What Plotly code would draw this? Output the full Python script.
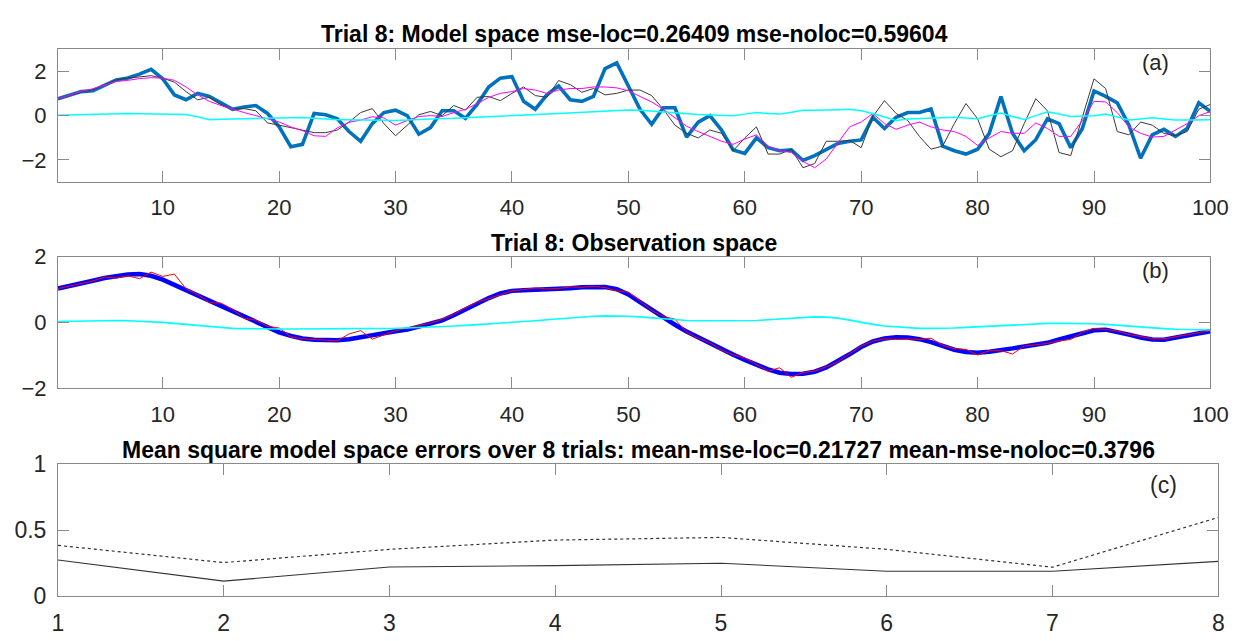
import plotly.graph_objects as go

W, H = 1250, 641

# ---------------- data ----------------
steps = list(range(1, 101))

# panel (a) model space
a_blue = [0.77, 0.91, 1.09, 1.13, 1.38, 1.62, 1.71, 1.88, 2.10, 1.67,
          0.94, 0.72, 1.01, 0.87, 0.58, 0.29, 0.39, 0.46, 0.10, -0.51,
          -1.41, -1.30, 0.10, 0.04, -0.14, -0.72, -1.16, -0.36, 0.14, 0.25,
          0.00, -0.84, -0.54, 0.22, 0.22, -0.12, 0.51, 1.30, 1.70, 1.77,
          0.65, 0.29, 0.94, 1.35, 0.72, 0.65, 0.87, 2.13, 2.39, 1.38,
          0.29, -0.39, 0.36, 0.36, -0.97, -0.29, 0.00, -0.65, -1.55, -1.71,
          -1.01, -1.45, -1.59, -1.55, -2.03, -1.81, -1.52, -1.26, -1.16, -1.10,
          -0.07, -0.58, -0.07, 0.14, 0.14, 0.30, -1.38, -1.59, -1.74, -1.52,
          -0.80, 0.87, -0.80, -1.59, -1.09, -0.14, -0.36, -1.45, -0.58, 1.12,
          0.87, 0.58, -0.43, -1.93, -0.87, -0.62, -0.94, -0.58, 0.58, 0.19]

a_black = [0.75, 0.90, 1.07, 1.18, 1.40, 1.62, 1.70, 1.75, 1.81, 1.70,
           1.52, 1.09, 0.72, 0.83, 0.50, 0.29, 0.32, 0.22, -0.33, -0.43,
           -0.54, -0.65, -0.77, -0.77, -0.65, -0.29, 0.14, 0.32, -0.36, -0.91,
           -0.43, 0.04, 0.19, 0.00, 0.46, 0.25, 0.83, 0.87, 0.68, 1.01,
           1.30, 0.91, 0.83, 1.59, 1.41, 1.06, 1.23, 0.94, 1.01, 1.16,
           1.16, 0.91, 0.29, -0.43, -0.80, -1.01, -0.65, -0.80, -1.59, -1.01,
           -0.51, -1.74, -1.74, -1.52, -2.36, -2.17, -1.16, -1.16, -1.12, -1.45,
           -0.04, 0.68, 0.10, -0.22, -0.94, -1.52, -1.38, -0.36, 0.55, -0.14,
           -1.52, -1.86, -1.59, -0.36, 0.77, 0.22, -1.67, -1.81, -0.07, 1.67,
           1.23, -0.72, -0.87, -0.29, -0.43, -0.80, -0.91, -0.72, 0.29, 0.51]

a_magenta = [0.75, 0.92, 1.10, 1.22, 1.40, 1.55, 1.60, 1.68, 1.72, 1.70,
             1.60, 1.30, 0.94, 0.65, 0.46, 0.29, 0.14, 0.00, -0.14, -0.29,
             -0.51, -0.68, -0.91, -0.94, -0.55, -0.30, -0.20, -0.05, -0.10, -0.43,
             -0.22, -0.04, 0.00, -0.04, 0.14, 0.29, 0.54, 0.83, 1.01, 1.09,
             1.23, 1.16, 1.01, 1.16, 1.23, 1.23, 1.30, 1.30, 1.26, 1.13,
             0.87, 0.62, 0.29, -0.10, -0.48, -0.72, -0.94, -1.16, -1.30, -1.06,
             -0.87, -1.38, -1.59, -1.67, -2.07, -2.36, -1.96, -1.23, -0.51, -0.29,
             0.10, -0.36, -0.62, -0.43, -0.29, -0.51, -0.65, -0.72, -0.94, -1.35,
             -1.01, -0.72, -0.80, -0.80, -0.33, -0.58, -0.94, -0.94, -0.22, 0.65,
             0.62, 0.14, -0.51, -0.80, -0.97, -0.94, -0.65, -0.36, 0.00, 0.19]

a_cyan = [0.02, 0.04, 0.06, 0.08, 0.09, 0.09, 0.10, 0.09, 0.08, 0.07,
          0.06, 0.05, -0.05, -0.18, -0.16, -0.15, -0.17, -0.15, -0.13, -0.12,
          -0.10, -0.08, -0.12, -0.16, -0.18, -0.19, -0.20, -0.21, -0.21, -0.22,
          -0.20, -0.17, -0.15, -0.13, -0.12, -0.10, -0.07, -0.05, -0.03, 0.00,
          0.02, 0.05, 0.07, 0.10, 0.13, 0.17, 0.20, 0.22, 0.25, 0.26,
          0.24, 0.20, 0.15, 0.10, 0.07, 0.05, 0.03, 0.01, 0.00, 0.07,
          0.14, 0.10, 0.07, 0.15, 0.25, 0.25, 0.25, 0.27, 0.29, 0.22,
          0.10, -0.05, -0.22, -0.15, -0.12, -0.10, -0.09, -0.07, -0.10, -0.14,
          0.00, 0.12, -0.04, -0.17, 0.00, 0.18, 0.08, -0.04, -0.02, 0.00,
          0.07, -0.07, -0.20, -0.15, -0.10, -0.15, -0.20, -0.20, -0.19, -0.19]

# panel (b) observation space
b_blue = [1.03, 1.10, 1.18, 1.27, 1.35, 1.42, 1.46, 1.47, 1.42, 1.30,
          1.14, 0.98, 0.82, 0.67, 0.52, 0.36, 0.18, 0.02, -0.15, -0.30,
          -0.41, -0.49, -0.53, -0.54, -0.54, -0.51, -0.46, -0.40, -0.33, -0.27,
          -0.22, -0.13, -0.04, 0.06, 0.22, 0.40, 0.58, 0.74, 0.88, 0.96,
          0.98, 0.99, 1.00, 1.01, 1.04, 1.07, 1.09, 1.08, 1.01, 0.85,
          0.62, 0.38, 0.15, -0.07, -0.28, -0.46, -0.64, -0.81, -0.98, -1.14,
          -1.29, -1.43, -1.53, -1.57, -1.56, -1.50, -1.37, -1.18, -0.97, -0.75,
          -0.58, -0.49, -0.45, -0.46, -0.51, -0.60, -0.72, -0.83, -0.90, -0.92,
          -0.89, -0.85, -0.79, -0.73, -0.68, -0.62, -0.52, -0.42, -0.32, -0.24,
          -0.22, -0.28, -0.37, -0.46, -0.52, -0.53, -0.46, -0.39, -0.33, -0.27]

b_red = [1.03, 1.10, 1.17, 1.26, 1.38, 1.35, 1.42, 1.33, 1.53, 1.40,
         1.47, 1.02, 0.85, 0.60, 0.59, 0.40, 0.12, 0.07, -0.12, -0.17,
         -0.44, -0.50, -0.52, -0.55, -0.56, -0.35, -0.25, -0.51, -0.37, -0.25,
         -0.17, -0.10, -0.02, 0.10, 0.25, 0.45, 0.62, 0.72, 0.85, 0.96,
         1.00, 1.05, 1.02, 1.03, 1.08, 1.07, 1.10, 1.06, 0.96, 0.92,
         0.65, 0.36, 0.18, 0.10, -0.30, -0.48, -0.62, -0.84, -0.99, -1.08,
         -1.28, -1.48, -1.38, -1.67, -1.52, -1.48, -1.35, -1.20, -0.95, -0.72,
         -0.57, -0.50, -0.52, -0.50, -0.52, -0.48, -0.70, -0.80, -0.82, -0.99,
         -0.86, -0.86, -0.96, -0.72, -0.68, -0.64, -0.56, -0.52, -0.30, -0.18,
         -0.22, -0.26, -0.36, -0.42, -0.50, -0.50, -0.44, -0.36, -0.32, -0.25]

b_cyan = [0.03, 0.04, 0.05, 0.05, 0.06, 0.06, 0.05, 0.04, 0.02, 0.00,
          -0.03, -0.06, -0.10, -0.14, -0.17, -0.18, -0.19, -0.20, -0.20, -0.20,
          -0.20, -0.20, -0.20, -0.20, -0.20, -0.20, -0.20, -0.19, -0.19, -0.18,
          -0.17, -0.16, -0.15, -0.13, -0.11, -0.09, -0.07, -0.05, -0.03, -0.01,
          0.02, 0.05, 0.08, 0.11, 0.14, 0.17, 0.19, 0.20, 0.20, 0.19,
          0.17, 0.14, 0.11, 0.08, 0.06, 0.05, 0.05, 0.05, 0.05, 0.05,
          0.06, 0.08, 0.10, 0.12, 0.15, 0.17, 0.16, 0.13, 0.07, 0.00,
          -0.06, -0.11, -0.14, -0.16, -0.18, -0.18, -0.18, -0.17, -0.15, -0.13,
          -0.11, -0.09, -0.07, -0.05, -0.04, -0.03, -0.03, -0.03, -0.03, -0.04,
          -0.06, -0.09, -0.12, -0.15, -0.17, -0.19, -0.21, -0.22, -0.23, -0.23]

# panel (c) errors over trials
trials = [1, 2, 3, 4, 5, 6, 7, 8]
mse_loc = [0.275, 0.115, 0.222, 0.232, 0.250, 0.190, 0.190, 0.26409]
mse_noloc = [0.385, 0.255, 0.355, 0.425, 0.445, 0.355, 0.220, 0.59604]

title_a = "Trial 8: Model space mse-loc=0.26409 mse-noloc=0.59604"
title_b = "Trial 8: Observation space"
title_c = "Mean square model space errors over 8 trials: mean-mse-loc=0.21727 mean-mse-noloc=0.3796"

x_ticks_ab = [10, 20, 30, 40, 50, 60, 70, 80, 90, 100]
y_ticks_a = [-2, 0, 2]
y_ticks_b = [-2, 0, 2]
x_ticks_c = [1, 2, 3, 4, 5, 6, 7, 8]
y_ticks_c = [0, 0.5, 1]

# ---------------- layout helpers ----------------
FONT = "Liberation Sans, Arial, Helvetica, sans-serif"
AXC = "#8a8a8a"
TXT = "#262626"


def px_x(x):
    return x / W


def px_y(y):
    return 1 - y / H


def axis(domain, rng, tickvals, anchor, is_x, ticktext=None, size=22):
    d = dict(
        domain=domain, range=rng, tickvals=tickvals, anchor=anchor,
        showline=True, linecolor=AXC, linewidth=1, mirror="ticks",
        ticks="inside", ticklen=11, tickcolor=AXC, tickwidth=1,
        showgrid=False, zeroline=False,
        tickfont=dict(family=FONT, size=size, color=TXT),
        ticklabelstandoff=6 if is_x else 6,
    )
    if ticktext is not None:
        d["ticktext"] = ticktext
    return d


fig = go.Figure()

# panel a
fig.add_trace(go.Scatter(x=steps, y=a_blue, mode="lines", line=dict(color="rgb(0,114,189)", width=3.6), xaxis="x", yaxis="y"))
fig.add_trace(go.Scatter(x=steps, y=a_black, mode="lines", line=dict(color="#3a3a3a", width=1), xaxis="x", yaxis="y"))
fig.add_trace(go.Scatter(x=steps, y=a_magenta, mode="lines", line=dict(color="#ff00ff", width=1), xaxis="x", yaxis="y"))
fig.add_trace(go.Scatter(x=steps, y=a_cyan, mode="lines", line=dict(color="#00ffff", width=1.5), xaxis="x", yaxis="y"))

# panel b
fig.add_trace(go.Scatter(x=steps, y=b_blue, mode="lines", line=dict(color="#0000ff", width=4.5), xaxis="x2", yaxis="y2"))
fig.add_trace(go.Scatter(x=steps, y=b_red, mode="lines", line=dict(color="#ff0000", width=1), xaxis="x2", yaxis="y2"))
fig.add_trace(go.Scatter(x=steps, y=b_cyan, mode="lines", line=dict(color="#00ffff", width=1.6), xaxis="x2", yaxis="y2"))

# panel c
fig.add_trace(go.Scatter(x=trials, y=mse_loc, mode="lines", line=dict(color="#333333", width=1.1), xaxis="x3", yaxis="y3"))
fig.add_trace(go.Scatter(x=trials, y=mse_noloc, mode="lines", line=dict(color="#333333", width=1.2, dash="dot"), xaxis="x3", yaxis="y3"))

L, R = 53, 1228
Rc = 1236
dom_ab_x = [px_x(L), px_x(R)]
dom_c_x = [px_x(L), px_x(Rc)]

fig.update_layout(
    width=W, height=H,
    margin=dict(l=0, r=0, t=0, b=0),
    paper_bgcolor="white", plot_bgcolor="white",
    showlegend=False,
    xaxis=axis(dom_ab_x, [1, 100], x_ticks_ab, "y", True),
    yaxis=axis([px_y(176), px_y(38)], [-3, 3], y_ticks_a, "x", False),
    xaxis2=axis(dom_ab_x, [1, 100], x_ticks_ab, "y2", True),
    yaxis2=axis([px_y(391), px_y(254)], [-2, 2], y_ticks_b, "x2", False),
    xaxis3=axis(dom_c_x, [1, 8], x_ticks_c, "y3", True, size=23),
    yaxis3=axis([px_y(608), px_y(470)], [0, 1], y_ticks_c, "x3", False,
                ticktext=["0", "0.5", "1"], size=23),
)

annos = [
    (title_a, (L + R) / 2, 22, 23, True),
    (title_b, (L + R) / 2, 240, 23, True),
    (title_c, (L + Rc) / 2, 455, 23, True),
    ("(a)", 1172, 52, 22, False),
    ("(b)", 1172, 268, 22, False),
    ("(c)", 1180, 492, 23, False),
]
for text, x, y, size, bold in annos:
    fig.add_annotation(
        text=f"<b>{text}</b>" if bold else text,
        x=px_x(x), y=px_y(y), xref="paper", yref="paper",
        xanchor="center", yanchor="middle", showarrow=False,
        font=dict(family=FONT, size=size, color="#000000" if bold else TXT),
    )

fig.write_html("out.html")
